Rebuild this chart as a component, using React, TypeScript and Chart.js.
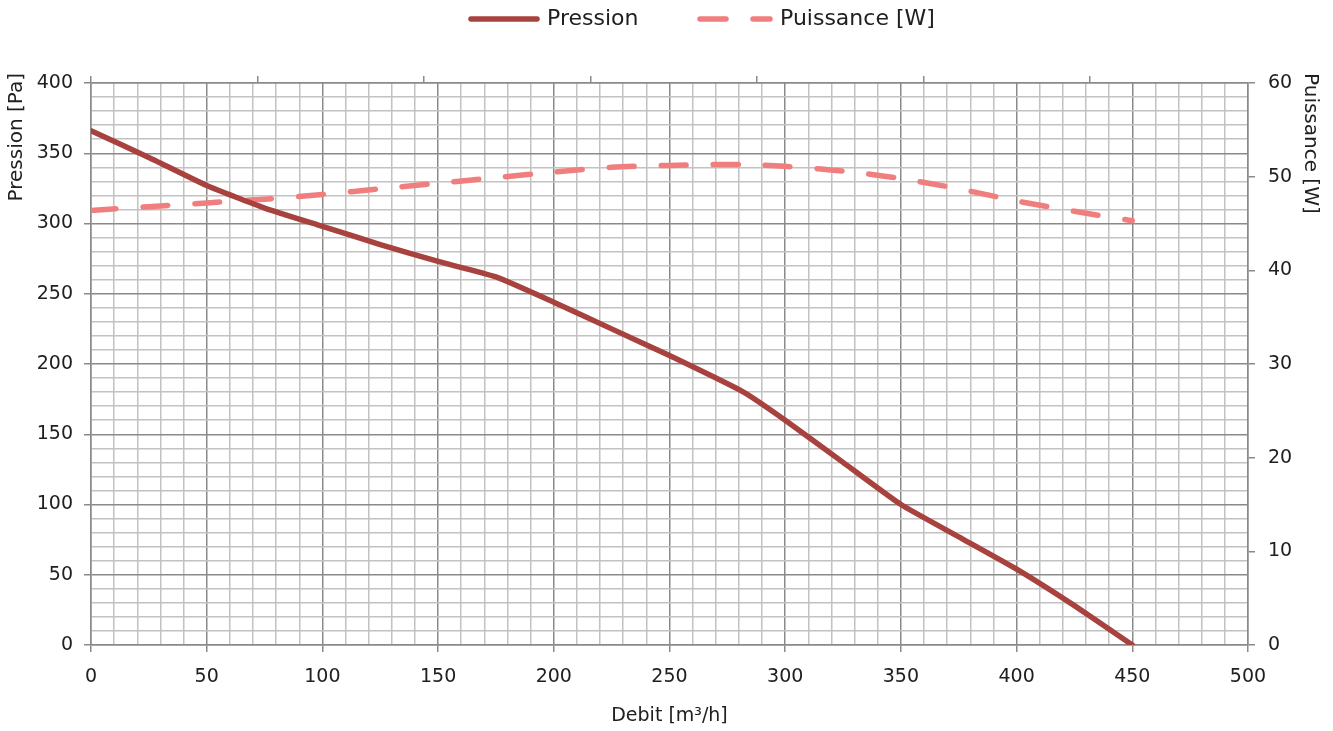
import React, { useEffect, useRef } from "react";
import { Chart, registerables } from "chart.js";

Chart.register(...registerables);

// ---- Data ----
const debit = [0, 25, 50, 75, 100, 125, 150, 175, 200, 225, 250, 282, 300, 325, 350, 375, 400, 425, 450];
const pression = [366, 347, 327, 311, 298, 285, 273, 262, 244, 225, 206, 180, 160, 130, 100, 77, 54, 28, 0];
const puissance = [46.4, 46.8, 47.2, 47.6, 48.1, 48.7, 49.3, 49.9, 50.5, 51.0, 51.2, 51.3, 51.1, 50.6, 49.8, 48.7, 47.4, 46.3, 45.3];

const xTitle = "Debit [m³/h]";
const yTitle = "Pression [Pa]";
const y1Title = "Puissance [W]";
const seriesNames = ["Pression", "Puissance [W]"];

// ---- Styles ----
const PRESSION_COLOR = "#A8423E";
const PUISSANCE_COLOR = "#F07E7E";
const MAJOR = "#8A8A8A";
const MINOR = "#C2C2C2";
const TEXT = "#202020";
const FONT = "'DejaVu Sans', sans-serif";

Chart.defaults.font.family = FONT;
Chart.defaults.color = TEXT;

export default function App() {
  const ref = useRef<HTMLCanvasElement>(null);

  useEffect(() => {
    const canvas = ref.current;
    if (!canvas) return;

    const overlay = {
      id: "overlay",
      afterDraw(chart: any) {
        const ctx = chart.ctx as CanvasRenderingContext2D;
        const { left, right } = chart.chartArea;
        ctx.save();
        // Legend
        const ly = 19;
        ctx.lineCap = "round";
        ctx.lineWidth = 5.5;
        ctx.strokeStyle = PRESSION_COLOR;
        ctx.setLineDash([]);
        ctx.beginPath();
        ctx.moveTo(471, ly);
        ctx.lineTo(537, ly);
        ctx.stroke();
        ctx.strokeStyle = PUISSANCE_COLOR;
        ctx.setLineDash([26, 27]);
        ctx.beginPath();
        ctx.moveTo(700, ly);
        ctx.lineTo(770, ly);
        ctx.stroke();
        ctx.setLineDash([]);
        ctx.fillStyle = TEXT;
        ctx.font = `22px ${FONT}`;
        ctx.textAlign = "left";
        ctx.textBaseline = "middle";
        ctx.fillText(seriesNames[0], 547, ly);
        ctx.fillText(seriesNames[1], 780, ly);

        // Y axis titles
        ctx.font = `20px ${FONT}`;
        ctx.save();
        ctx.translate(left - 74, 73);
        ctx.rotate(-Math.PI / 2);
        ctx.textAlign = "right";
        ctx.textBaseline = "middle";
        ctx.fillText(yTitle, 0, 0);
        ctx.restore();

        ctx.save();
        ctx.translate(right + 62, 73);
        ctx.rotate(Math.PI / 2);
        ctx.textAlign = "left";
        ctx.textBaseline = "middle";
        ctx.fillText(y1Title, 0, 0);
        ctx.restore();

        ctx.restore();
      },
    };

    const isMajor = (c: any) => c.tick && Math.abs(c.tick.value % 50) < 1e-6;

    const chart = new Chart(canvas, {
      type: "line",
      data: {
        datasets: [
          {
            label: seriesNames[0],
            data: debit.map((x, i) => ({ x, y: pression[i] })),
            xAxisID: "x",
            yAxisID: "y",
            borderColor: PRESSION_COLOR,
            backgroundColor: PRESSION_COLOR,
            borderWidth: 5.5,
            pointRadius: 0,
            tension: 0.15,
            borderCapStyle: "round",
            borderJoinStyle: "round",
            fill: false,
          },
          {
            label: seriesNames[1],
            data: debit.map((x, i) => ({ x, y: puissance[i] })),
            xAxisID: "x",
            yAxisID: "y1",
            borderColor: PUISSANCE_COLOR,
            backgroundColor: PUISSANCE_COLOR,
            borderWidth: 5.5,
            borderDash: [25, 27],
            pointRadius: 0,
            tension: 0.3,
            borderCapStyle: "round",
            borderJoinStyle: "round",
            fill: false,
          },
        ],
      },
      options: {
        responsive: false,
        animation: false,
        devicePixelRatio: 1,
        layout: { padding: 0 },
        plugins: {
          legend: { display: false },
          tooltip: { enabled: false },
        },
        scales: {
          x: {
            type: "linear",
            position: "bottom",
            min: 0,
            max: 500,
            afterFit: (s: any) => {
              s.height = 86;
            },
            ticks: {
              stepSize: 10,
              autoSkip: false,
              maxRotation: 0,
              padding: 14,
              font: { size: 19 },
              color: TEXT,
              callback: (v: any) => (Math.abs(Number(v) % 50) < 1e-6 ? String(v) : ""),
            },
            grid: {
              color: (c: any) => (isMajor(c) ? MAJOR : MINOR),
              lineWidth: 1.5,
              tickLength: 7,
              tickColor: (c: any) => (isMajor(c) ? MAJOR : "rgba(0,0,0,0)"),
            },
            border: { color: MAJOR, width: 1.5 },
            title: {
              display: true,
              text: xTitle,
              font: { size: 19 },
              color: TEXT,
              padding: { top: 0, bottom: 4 },
            },
          },
          x2: {
            type: "linear",
            position: "top",
            min: 0,
            max: 6.95,
            afterFit: (s: any) => {
              s.height = 83;
            },
            afterBuildTicks: (s: any) => {
              s.ticks = [0, 1, 2, 3, 4, 5, 6].map((v) => ({ value: v }));
            },
            ticks: { display: false },
            grid: {
              drawOnChartArea: false,
              tickLength: 7,
              color: MAJOR,
              lineWidth: 1.5,
            },
            border: { color: MAJOR, width: 1.5 },
          },
          y: {
            type: "linear",
            position: "left",
            min: 0,
            max: 400,
            afterFit: (s: any) => {
              s.width = 91;
            },
            ticks: {
              stepSize: 10,
              autoSkip: false,
              padding: 11,
              font: { size: 19 },
              color: TEXT,
              callback: (v: any) => (Math.abs(Number(v) % 50) < 1e-6 ? String(v) : ""),
            },
            grid: {
              color: (c: any) => (isMajor(c) ? MAJOR : MINOR),
              lineWidth: 1.5,
              tickLength: 7,
              tickColor: (c: any) => (isMajor(c) ? MAJOR : "rgba(0,0,0,0)"),
            },
            border: { color: MAJOR, width: 1.5 },
          },
          y1: {
            type: "linear",
            position: "right",
            min: 0,
            max: 60,
            afterFit: (s: any) => {
              s.width = 85;
            },
            ticks: {
              stepSize: 10,
              padding: 13,
              font: { size: 19 },
              color: TEXT,
            },
            grid: {
              drawOnChartArea: false,
              tickLength: 7,
              color: MAJOR,
              lineWidth: 1.5,
            },
            border: { color: MAJOR, width: 1.5 },
          },
        },
      } as any,
      plugins: [overlay],
    });

    return () => {
      chart.destroy();
    };
  }, []);

  return (
    <div style={{ position: "absolute", left: 0, top: 0, width: 1333, height: 731, background: "#ffffff" }}>
      <canvas ref={ref} width={1333} height={731} style={{ display: "block", width: 1333, height: 731 }} />
    </div>
  );
}
